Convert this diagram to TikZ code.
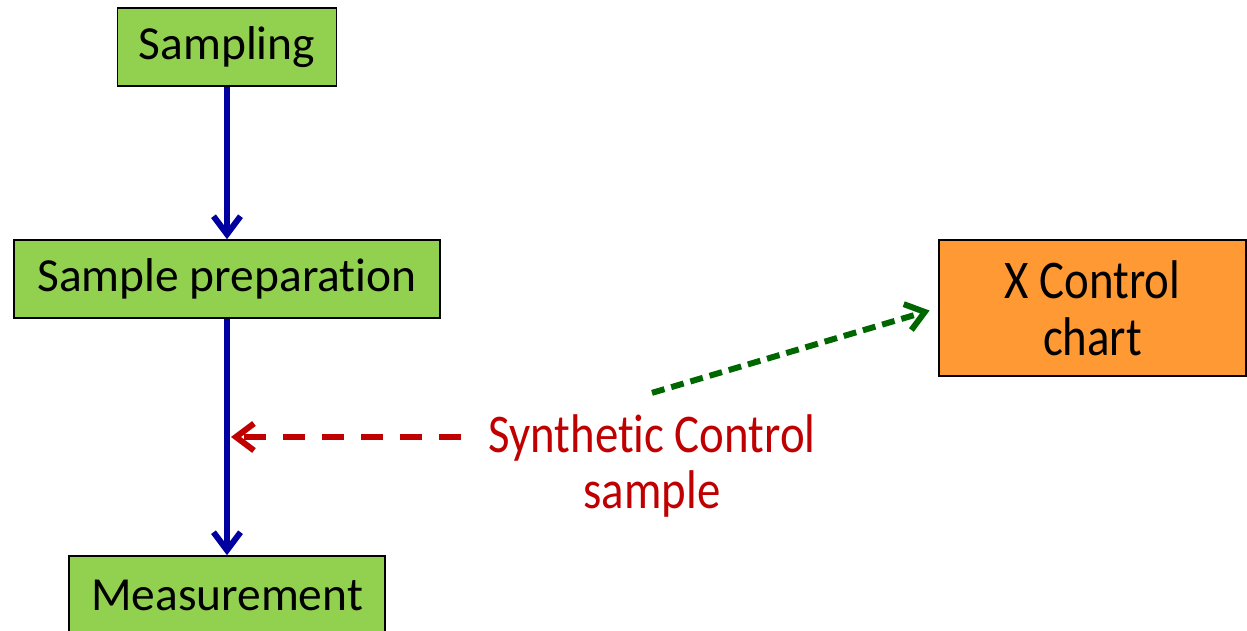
\documentclass[tikz,border=0pt]{standalone}
\usepackage{fontspec}
\setmainfont{Carlito}[Ligatures=NoCommon]
\newfontfamily\tallfont{Carlito}[FakeStretch=0.86,Ligatures=NoCommon]
\usepackage{xcolor}
\usetikzlibrary{arrows.meta,calc}
\definecolor{leaf}{HTML}{92D050}
\definecolor{peel}{HTML}{FF9933}
\definecolor{flow}{HTML}{0000A0}
\definecolor{ctrl}{HTML}{C00000}
\definecolor{feed}{HTML}{006600}

\tikzset{
  stage/.style={draw=black,line width=0.9pt,fill=leaf,minimum height=1.56cm,inner sep=0pt,font=\fontsize{27}{32}\selectfont},
  chartbox/.style={draw=black,line width=0.9pt,fill=peel,minimum width=6.14cm,minimum height=2.72cm,align=center,font=\tallfont\fontsize{31}{32.4}\selectfont},
  link/.style={line width=3.4pt,-{Straight Barb[length=3.6mm,width=5.4mm,line width=3.4pt]}},
}

\begin{document}
\begin{tikzpicture}[x=1cm,y=1cm]
\useasboundingbox (0,0) rectangle (24.94,12.62);
% process chain on the left
\node[stage,minimum width=4.38cm] (smp) at (4.54,11.68) {Sampling};
\node[stage,minimum width=8.52cm] (prep) at (4.54,7.04) {Sample preparation};
\node[stage,minimum width=6.32cm] (meas) at (4.54,0.72) {Measurement};
% chart on the right
\node[chartbox] (chart) at (21.85,6.46) {X Control\\chart};
\node[text=ctrl,align=center,inner xsep=0.54cm,inner ysep=0.42cm,font=\tallfont\fontsize{31}{32.4}\selectfont] (ctl) at (13.04,3.3) {Synthetic Control\\sample};
\coordinate (hit) at ($(prep.south)!0.5!(meas.north)$);
\draw[flow,link] (smp) -- (prep);
\draw[flow,link] (prep) -- (meas);
% control sample feeds the measurement and the chart
\draw[ctrl,link,dash pattern=on 0.44cm off 0.34cm,shorten >=0.08cm] (hit -| ctl.west) -- (hit);
\draw[feed,link,dash pattern=on 0.26cm off 0.14cm,shorten >=0.18cm] (ctl.north) -- (chart.west);
\end{tikzpicture}
\end{document}
